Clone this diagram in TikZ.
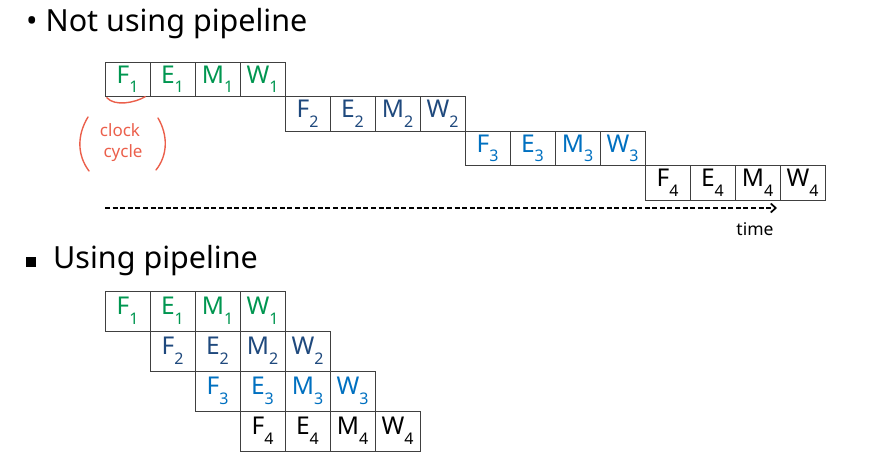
\documentclass[tikz,border=0pt]{standalone}
\usepackage{fontspec}
\setmainfont{Noto Sans}
\usetikzlibrary{arrows.meta,calc}

\definecolor{stgreen}{RGB}{0,150,80}
\definecolor{stnavy}{RGB}{31,73,125}
\definecolor{stblue}{RGB}{0,112,192}
\definecolor{penred}{RGB}{235,95,75}

\newcommand{\stg}[2]{#1\raisebox{-0.4em}{\fontsize{16}{16}\selectfont #2}}

\tikzset{
	cell/.style={draw=black!75, minimum width=45pt, minimum height=34.5pt, inner sep=0pt, font=\fontsize{24.5}{24.5}\selectfont},
	pcell/.style={cell, minimum height=40pt},
	heading/.style={anchor=base west, inner sep=0pt, font=\fontsize{30.5}{30.5}\selectfont},
	pen/.style={penred, line width=1.4pt, line cap=round},
}

\begin{document}
\begin{tikzpicture}[x=1pt, y=-1pt]
		\useasboundingbox (0,0) rectangle (875,455);

		\node[heading] (nohead) at (26,31) {• Not using pipeline};

		% not using pipeline: one stage after the other
		\foreach \i/\c in {1/stgreen, 2/stnavy, 3/stblue, 4/black}
			\foreach \s [count=\k from 0] in {F, E, M, W}
				\node[cell, text=\c] (n\s\i) at ({127.5+45*(4*(\i-1)+\k)}, {79.25+34.5*(\i-1)}) {\stg{\s}{\i}};

		\coordinate (arcl) at ($(nF1.south west)+(2,1)$);
		\coordinate (arcr) at ($(nF1.south east)+(-5,0)$);
		\draw[pen] (arcl) .. controls +(8,9) and +(-10,6) .. (arcr);
		\draw[pen] (88,117) .. controls (77,135) and (77,155) .. (89,171);
		\draw[pen] (158,118) .. controls (168,135) and (168,155) .. (156,170);
		\node[penred, font=\fontsize{17}{17}\selectfont] (clk) at (120,130) {clock};
		\node[penred, font=\fontsize{17}{17}\selectfont] (cyc) at (123,153) {cycle};

		\coordinate (tstart) at (105,208);
		\coordinate (tend)   at (777,208);
		\draw[line width=1.7pt, dash pattern=on 5pt off 2.6pt, -{Straight Barb[length=5pt, width=9pt]}] (tstart) -- (tend);
		\node[font=\fontsize{17.5}{17.5}\selectfont] (time) at (755,229) {time};

		\node[fill, minimum size=10pt, inner sep=0pt] (sq) at (31,262) {};
		\node[heading] (pipehead) at (53,268) {Using pipeline};

		% using pipeline: stages overlap
		\foreach \i/\c in {1/stgreen, 2/stnavy, 3/stblue, 4/black}
			\foreach \s [count=\k from 0] in {F, E, M, W}
				\node[pcell, text=\c] (p\s\i) at ({127.5+45*(\i-1+\k)}, {311+40*(\i-1)}) {\stg{\s}{\i}};

	\end{tikzpicture}
\end{document}
